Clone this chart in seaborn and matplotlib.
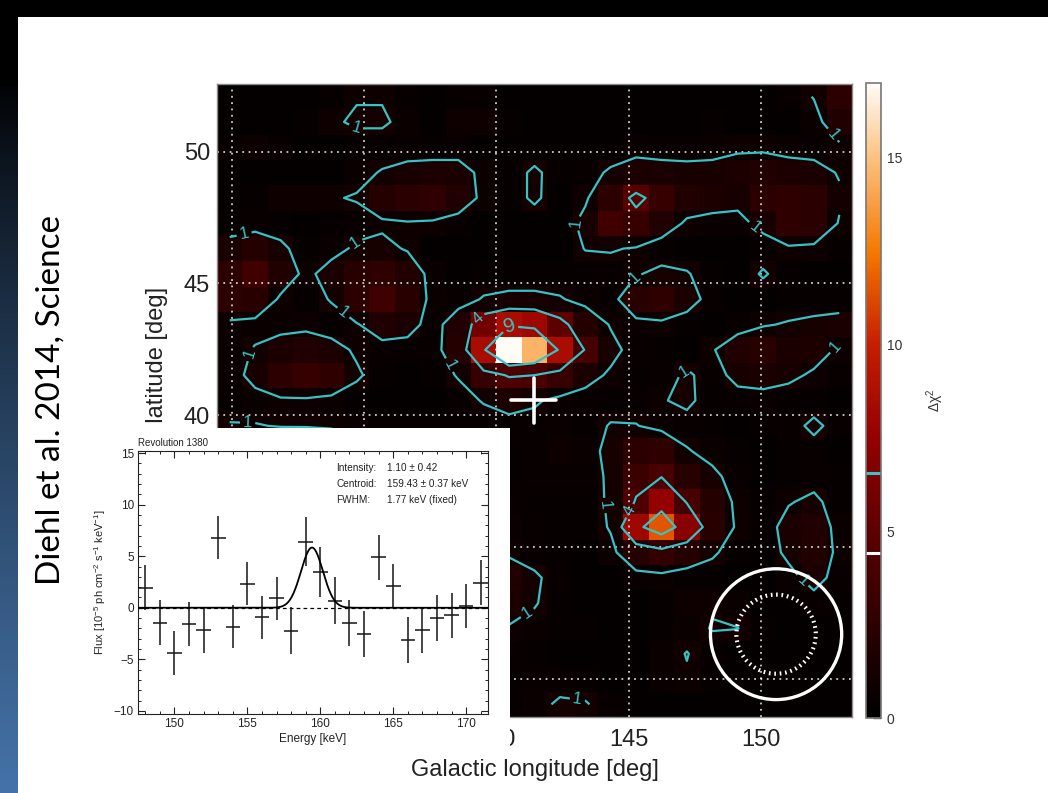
import numpy as np
import matplotlib
matplotlib.use("Agg")
import matplotlib.pyplot as plt
import seaborn as sns
from matplotlib.colors import LinearSegmentedColormap
from matplotlib.patches import Circle, Rectangle
from matplotlib.ticker import FixedLocator, MultipleLocator

sns.set_style("white")
plt.rcParams["font.family"] = ["Liberation Sans", "DejaVu Sans"]
plt.rcParams["mathtext.fontset"] = "custom"
plt.rcParams["mathtext.rm"] = "Liberation Sans"
plt.rcParams["mathtext.it"] = "Liberation Sans:italic"
plt.rcParams["mathtext.default"] = "regular"

# ---------------- sky map: delta chi^2 on a 25 x 25 grid (row 0 = top) ----------------
LON_MIN, LAT_MAX, CELL = 129.44, 52.56, 0.96
delta_chi2 = [
    [0.2,0.2,0.3,0.3,0.4,0.9,0.9,0.4,0.2,0.4,0.5,0.3,0.2,0.2,0.3,0.3,0.2,0.2,0.3,0.3,0.2,0.3,0.5,1.05,2.5],
    [0.3,0.3,0.3,0.4,0.8,1.2,1.2,0.6,0.3,0.8,0.8,0.4,0.3,0.2,0.2,0.3,0.3,0.2,0.3,0.4,0.3,0.2,0.3,0.6,1.8],
    [0.4,0.7,0.5,0.3,0.3,0.4,0.4,0.5,0.4,0.5,0.3,0.3,0.3,0.2,0.2,0.3,0.6,0.5,0.5,0.6,0.8,0.8,0.6,0.5,0.8],
    [0.3,0.3,0.3,0.3,0.3,0.6,1.1,1.4,1.6,1.5,0.7,0.4,1.25,0.4,0.5,1.2,1.6,1.5,1.4,1.4,1.6,1.8,1.6,1.5,0.9],
    [0.3,0.4,0.9,0.9,0.9,1.1,2.0,2.4,2.6,1.8,0.7,0.4,1.25,0.3,0.8,2.5,4.6,3.0,1.8,1.6,1.4,2.5,2.6,2.4,1.2],
    [0.4,0.5,0.4,0.3,0.4,0.5,0.8,0.9,0.8,0.5,0.3,0.3,0.3,0.3,1.4,3.5,3.0,1.8,0.8,0.6,0.6,1.4,2.6,2.4,0.9],
    [1.5,2.0,1.3,0.4,0.6,1.2,1.3,0.9,0.3,0.3,0.3,0.3,0.3,0.3,1.05,1.1,0.9,0.4,0.3,0.3,0.3,0.4,0.8,0.7,0.4],
    [2.5,3.5,1.8,0.7,1.5,2.2,2.6,1.8,0.6,0.3,0.4,0.4,0.4,0.4,0.4,0.5,0.9,1.3,1.1,0.4,0.3,1.15,0.4,0.3,0.3],
    [2.5,2.2,0.8,0.4,1.1,2.5,3.5,2.2,0.6,0.5,1.1,1.3,1.3,1.1,0.6,0.5,2.2,2.6,1.6,0.5,0.3,0.3,0.4,0.4,0.4],
    [0.7,0.6,0.6,0.7,0.4,0.9,1.8,1.5,0.5,1.8,6.0,8.5,8.0,5.0,2.0,0.9,0.6,0.7,0.4,0.3,0.5,0.9,1.1,1.3,1.5],
    [0.5,1.1,1.6,1.8,1.5,0.8,0.5,0.5,0.5,2.0,8.5,17.0,14.5,8.5,3.8,1.4,0.5,0.4,0.3,0.9,1.8,2.2,1.5,1.6,0.8],
    [0.5,1.4,2.5,3.0,2.6,1.2,0.4,0.3,0.4,1.1,3.0,4.2,4.0,3.0,1.5,0.8,0.4,0.5,1.2,0.5,1.4,1.5,1.3,0.8,0.5],
    [0.4,0.6,0.8,0.8,0.6,0.4,0.3,0.3,0.3,0.5,1.1,1.6,1.2,0.6,0.5,0.4,0.5,0.9,1.3,0.4,0.5,0.6,0.4,0.4,0.3],
    [1.1,1.05,0.95,0.95,0.9,0.6,0.4,0.4,0.4,0.4,0.4,0.5,0.5,0.6,0.4,1.1,1.05,0.6,0.5,0.4,0.3,0.4,0.5,1.3,0.5],
    [1.8,2.0,2.2,2.0,1.8,1.2,0.6,0.4,0.3,0.4,0.5,0.4,0.5,0.8,0.6,1.3,2.5,2.6,1.1,0.6,0.4,0.3,0.4,0.5,0.3],
    [1.6,2.2,2.5,2.2,1.5,0.8,0.5,0.4,0.4,0.3,0.4,0.4,0.5,0.5,0.5,1.2,3.2,3.9,2.2,1.3,0.5,0.3,0.4,0.5,0.4],
    [1.0,1.4,1.5,1.2,0.8,0.5,0.4,0.3,0.3,0.4,0.4,0.5,0.4,0.4,0.4,1.2,4.2,7.5,3.8,2.0,0.7,0.4,0.9,1.3,0.4],
    [0.6,0.8,0.9,0.7,0.5,0.4,0.3,0.3,0.4,0.4,0.5,0.6,0.5,0.4,0.4,1.1,8.0,11.5,7.0,2.2,0.8,0.4,1.5,1.8,0.6],
    [0.4,0.5,0.5,0.4,0.3,0.3,0.4,0.5,0.5,0.4,0.6,0.8,0.5,0.4,0.3,0.7,2.0,2.8,2.0,1.2,0.4,0.3,1.3,1.9,0.7],
    [0.3,0.4,0.4,0.3,0.3,0.4,0.5,0.6,0.5,0.5,0.9,1.8,1.2,0.5,0.3,0.3,0.6,0.6,0.4,0.4,0.3,0.3,0.6,1.5,0.5],
    [0.3,0.3,0.4,0.4,0.4,0.5,0.6,0.5,0.4,0.5,0.8,1.6,1.1,0.4,0.3,0.3,0.3,0.4,0.9,0.9,0.6,0.3,0.3,0.5,0.4],
    [0.4,0.4,0.5,0.5,0.4,0.4,0.4,0.4,0.4,0.4,0.6,0.9,0.6,0.4,0.4,0.3,0.3,0.4,0.6,1.06,1.02,0.4,0.3,0.3,0.3],
    [0.3,0.4,0.5,0.4,0.3,0.3,0.3,0.4,0.4,0.3,0.4,0.5,0.4,0.3,0.3,0.3,0.3,0.6,1.04,0.5,0.3,0.3,0.3,0.3,0.3],
    [0.3,0.3,0.4,0.4,0.3,0.3,0.3,0.3,0.3,0.3,0.3,0.4,0.5,0.5,0.4,0.3,0.3,0.6,0.9,0.4,0.3,0.3,0.3,0.3,0.3],
    [0.3,0.3,0.3,0.3,0.3,0.3,0.3,0.3,0.3,0.3,0.3,0.4,0.6,1.2,1.1,0.5,0.3,0.3,0.3,0.3,0.3,0.3,0.3,0.3,0.3],
]
contour_levels = [1, 4, 9]
lon_ticks = [130, 135, 140, 145, 150]
lat_ticks = [30, 35, 40, 45, 50]
vmax_chi2 = 17
cbar_ticks = [0, 5, 10, 15]
cbar_marks = [6.55, 4.43]
source_lon, source_lat = 141.41, 40.57
beam_lon, beam_lat = 150.57, 31.70
beam_radii = [2.48, 1.50]

# contour label anchor positions (lon, lat) for each level
label_positions = {
    1: [(134.1, 49.7), (134.2, 47.1), (130.5, 46.7), (134.3, 44.0),
        (130.8, 42.3), (138.6, 42.1), (142.8, 47.4), (150.3, 47.8),
        (152.9, 50.8), (145.0, 45.4), (152.8, 42.6), (147.2, 41.5),
        (130.6, 39.8), (144.3, 36.6), (151.9, 34.1), (141.3, 32.3),
        (143.0, 28.8)],
    4: [(139.2, 43.8), (145.0, 36.4)],
    9: [(140.5, 43.5)],
}
label_sizes = {1: 12, 4: 12, 9: 15}

# ---------------- spectrum (revolution 1380) ----------------
energy = [148, 149, 150, 151, 152, 153, 154, 155, 156, 157, 158, 159,
          160, 161, 162, 163, 164, 165, 166, 167, 168, 169, 170, 171]
flux = [1.94, -1.43, -4.38, -1.59, -2.19, 6.79, -1.84, 2.35, -0.92, 0.92, -2.22, 6.41,
        3.49, 0.70, -1.46, -2.54, 4.89, 2.10, -3.14, -2.19, -0.98, -0.73, 0.19, 2.44]
flux_err = [2.2, 2.15, 2.15, 2.15, 2.2, 2.1, 2.1, 2.1, 2.1, 2.1, 2.25, 2.4,
            2.45, 2.25, 2.2, 2.2, 2.15, 2.1, 2.2, 2.2, 2.2, 2.2, 2.15, 2.2]
line_intensity = 1.10      # 1e-4 ph cm^-2 s^-1
line_intensity_err = 0.42
line_centroid = 159.43     # keV
line_centroid_err = 0.37
line_fwhm = 1.77           # keV

CYAN = "#36c3c7"
W, H = 1048, 793


def px_rect(left, top, right, bottom):
    return [left / W, 1 - bottom / H, (right - left) / W, (bottom - top) / H]


def lon_to_x(lon):
    return (np.asarray(lon, dtype=float) - LON_MIN) / CELL


def lat_to_y(lat):
    return (LAT_MAX - np.asarray(lat, dtype=float)) / CELL


fig = plt.figure(figsize=(W / 100, H / 100), dpi=100)
fig.patch.set_facecolor("white")

heat = LinearSegmentedColormap.from_list(
    "heat",
    [(0.00, (0, 0, 0)), (0.10, (30/255, 0, 0)), (0.29, (92/255, 0, 0)),
     (0.44, (148/255, 0, 0)), (0.59, (198/255, 30/255, 0)),
     (0.735, (245/255, 120/255, 0)), (0.88, (252/255, 192/255, 125/255)),
     (1.00, (1, 252/255, 246/255))])

ax = fig.add_axes(px_rect(217, 84, 852, 717))
cax = fig.add_axes(px_rect(866, 83, 881, 718))
Z = np.array(delta_chi2)
sns.heatmap(Z, ax=ax, cmap=heat, vmin=0, vmax=vmax_chi2, cbar_ax=cax,
            xticklabels=False, yticklabels=False)
ax.set_xlim(0, Z.shape[1])
ax.set_ylim(Z.shape[0], 0)

# dotted coordinate grid
for lon in lon_ticks:
    ax.axvline(lon_to_x(lon), color="white", alpha=0.8, lw=1.3,
               ls=(0, (1, 2.5)), zorder=1.5)
for lat in lat_ticks:
    ax.axhline(lat_to_y(lat), color="white", alpha=0.8, lw=1.3,
               ls=(0, (1, 2.5)), zorder=1.5)

# significance contours, one set per level so each gets its own labels
xc = np.arange(Z.shape[1]) + 0.5
yc = np.arange(Z.shape[0]) + 0.5
for lev in contour_levels:
    cs = ax.contour(xc, yc, Z, levels=[lev], colors=CYAN, linewidths=1.6, zorder=2)
    pts = [(float(lon_to_x(a)), float(lat_to_y(b))) for a, b in label_positions[lev]]
    ax.clabel(cs, manual=pts, fmt="%d", fontsize=label_sizes[lev],
              inline=True, inline_spacing=3, colors=CYAN)

# source position and instrument resolution circles
sx, sy = lon_to_x(source_lon), lat_to_y(source_lat)
arm = 0.85 / CELL
ax.plot([sx - arm, sx + arm], [sy, sy], color="white", lw=2.6, zorder=4)
ax.plot([sx, sx], [sy - arm, sy + arm], color="white", lw=2.6, zorder=4)
bx, by = lon_to_x(beam_lon), lat_to_y(beam_lat)
ax.add_patch(Circle((bx, by), beam_radii[0] / CELL, fill=False, ec="white", lw=2.4, zorder=4))
ax.add_patch(Circle((bx, by), beam_radii[1] / CELL, fill=False, ec="white", lw=3.0,
                    ls=(0, (0.4, 0.9)), zorder=4))

# axes ticks and labels
ax.set_xticks(lon_to_x(lon_ticks))
ax.set_xticklabels([str(v) for v in lon_ticks])
ax.set_yticks(lat_to_y(lat_ticks))
ax.set_yticklabels([str(v) for v in lat_ticks], rotation=0)
ax.xaxis.set_minor_locator(FixedLocator(lon_to_x(np.arange(130, 154))))
ax.yaxis.set_minor_locator(FixedLocator(lat_to_y(np.arange(29, 53))))
ax.tick_params(axis="both", which="both", direction="in", color="white",
               length=8, width=1.3, bottom=True, left=True, top=False, right=False,
               labelsize=17, labelcolor="#222222")
ax.tick_params(axis="x", which="major", pad=9)
ax.tick_params(axis="y", which="major", pad=5)
for sp in ax.spines.values():
    sp.set_visible(True)
    sp.set_color("#8a8a8a")
    sp.set_linewidth(1.0)
ax.set_xlabel("Galactic longitude [deg]", fontsize=17, color="#222222")
ax.xaxis.set_label_coords(0.5, -0.066)
ax.set_ylabel("Galactic latitude [deg]", fontsize=17, color="#222222")
ax.yaxis.set_label_coords(-0.077, 0.5)

# colour bar
cbar = ax.collections[0].colorbar
cbar.set_ticks(cbar_ticks)
cbar.outline.set_edgecolor("#777777")
cbar.outline.set_linewidth(1.2)
cax.yaxis.set_minor_locator(FixedLocator([2.5, 7.5, 12.5]))
cax.tick_params(axis="y", which="both", direction="in", right=True, left=False,
                color="#555555", labelsize=10, labelcolor="#333333", pad=4)
cax.tick_params(axis="y", which="major", length=6, width=1.0)
cax.tick_params(axis="y", which="minor", length=4, width=0.8)
cax.axhline(cbar_marks[0], color=CYAN, lw=2.2)
cax.axhline(cbar_marks[1], color="white", lw=2.2)
cbar.set_label("Δχ$^2$", fontsize=10, color="#333333", labelpad=16)

# ---------------- spectrum inset ----------------
fig.add_artist(Rectangle((70 / W, 1 - 754 / H), 440 / W, 326 / H,
                         transform=fig.transFigure, facecolor="white",
                         edgecolor="none", zorder=2))
ins = fig.add_axes(px_rect(138, 451, 488, 714))
ins.set_zorder(3)
ins.set_facecolor("white")
e = np.array(energy, dtype=float)
ins.errorbar(e, flux, yerr=flux_err, xerr=0.5, fmt="none", ecolor="#151515",
             elinewidth=1.1, capsize=0, zorder=3)
sigma = line_fwhm / (2 * np.sqrt(2 * np.log(2)))
amp = line_intensity * 10 / (sigma * np.sqrt(2 * np.pi))
e_model = np.linspace(147.5, 171.5, 600)
model = amp * np.exp(-0.5 * ((e_model - line_centroid) / sigma) ** 2)
ins.axhline(0, color="black", lw=0.9, ls=(0, (3, 2.5)), zorder=2)
sns.lineplot(x=e_model, y=model, ax=ins, color="black", lw=1.3, zorder=4)
ins.set_xlim(147.5, 171.5)
ins.set_ylim(-10.3, 15.2)
ins.xaxis.set_major_locator(MultipleLocator(5))
ins.xaxis.set_minor_locator(MultipleLocator(1))
ins.yaxis.set_major_locator(MultipleLocator(5))
ins.yaxis.set_minor_locator(MultipleLocator(1))
ins.tick_params(axis="both", which="both", direction="in", top=True, right=True,
                bottom=True, left=True, color="#222222", labelsize=8.5,
                labelcolor="#222222", pad=3)
ins.tick_params(axis="both", which="major", length=5, width=0.8)
ins.tick_params(axis="both", which="minor", length=2.5, width=0.7)
for sp in ins.spines.values():
    sp.set_visible(True)
    sp.set_color("#222222")
    sp.set_linewidth(0.8)
ins.set_xlabel("Energy [keV]", fontsize=8.5, color="#222222", labelpad=2)
ins.set_ylabel("Flux [10$^{-5}$ ph cm$^{-2}$ s$^{-1}$ keV$^{-1}$]", fontsize=8,
               color="#222222", labelpad=4)
ins.text(0.0, 1.012, "Revolution 1380", transform=ins.transAxes, fontsize=7,
         ha="left", va="bottom", color="#222222")
fit_rows = [("Intensity:", f"{line_intensity:.2f} ± {line_intensity_err:.2f}"),
            ("Centroid:", f"{line_centroid:.2f} ± {line_centroid_err:.2f} keV"),
            ("FWHM:", f"{line_fwhm:.2f} keV (fixed)")]
for k, (name, val) in enumerate(fit_rows):
    yy = 0.935 - k * 0.061
    ins.text(0.566, yy, name, transform=ins.transAxes, fontsize=7.2,
             ha="left", va="center", color="#222222")
    ins.text(0.711, yy, val, transform=ins.transAxes, fontsize=7.2,
             ha="left", va="center", color="#222222")

# ---------------- slide decoration ----------------
fig.text(51 / W, 1 - 400 / H, "Diehl et al. 2014, Science", rotation=90,
         fontsize=24, family=["Lato", "DejaVu Sans"], ha="center", va="center",
         color="black")
gax = fig.add_axes([0, 0, 18 / W, 1])
gax.set_zorder(6)
t = np.linspace(0, 1, 256)[:, None]
ramp = np.clip((t - 0.1) / 0.9, 0, 1) ** 0.8
grad = np.dstack([ramp * 0.27, ramp * 0.45, ramp * 0.66])
gax.imshow(grad, aspect="auto", extent=[0, 1, 0, 1], origin="upper")
gax.axis("off")
fig.add_artist(Rectangle((0, 1 - 17 / H), 1, 17 / H, transform=fig.transFigure,
                         facecolor="black", edgecolor="none", zorder=10))

fig.savefig("out.png", dpi=100)
